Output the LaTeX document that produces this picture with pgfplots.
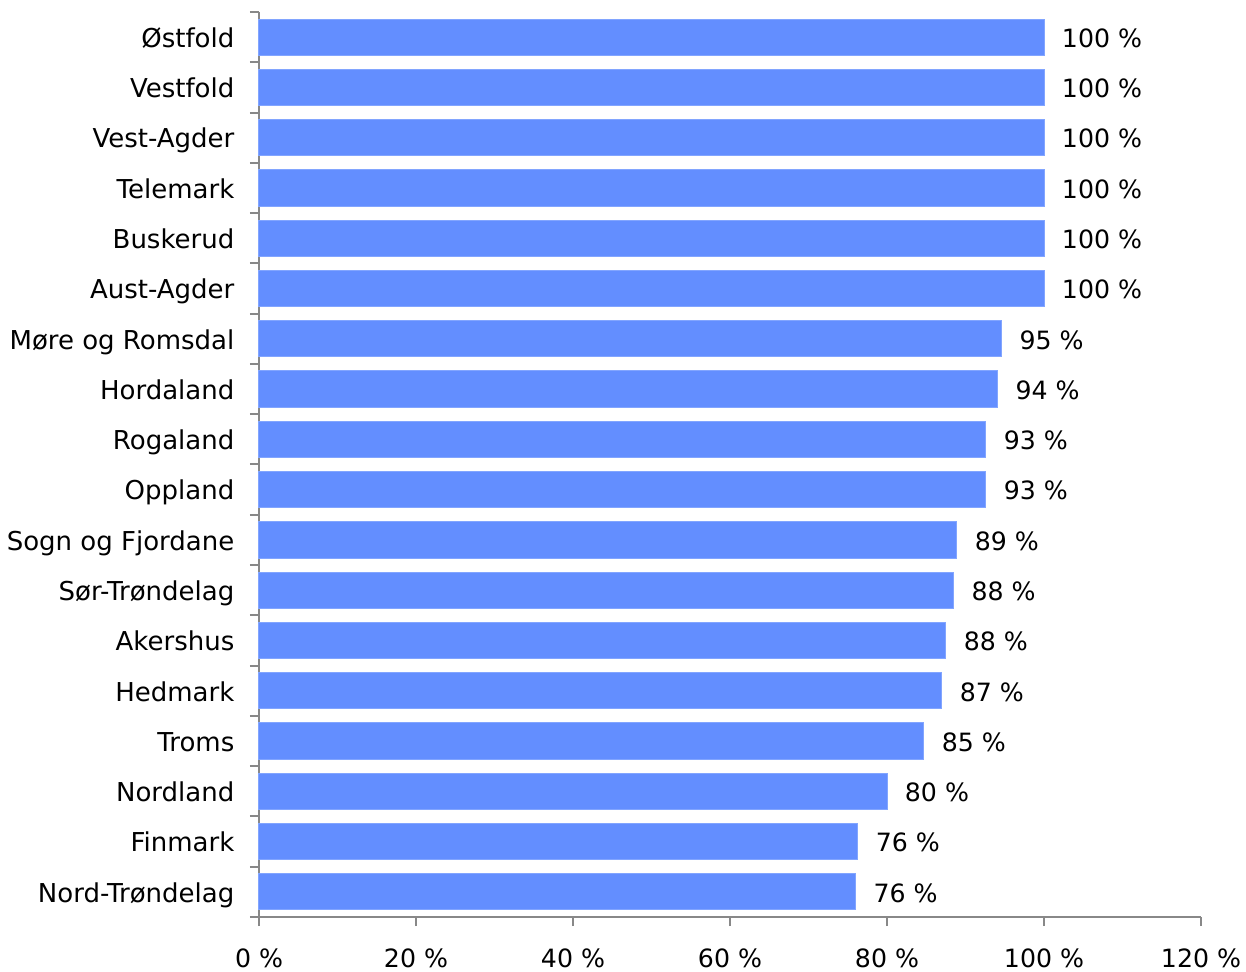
\documentclass[border=0pt]{standalone}
\usepackage{fontspec}
\setmainfont{DejaVu Sans}
\usepackage{pgfplots}
\usepackage{pgfplotstable}
\pgfplotsset{compat=1.18}
\definecolor{barblue}{RGB}{99,142,255}
\definecolor{axgray}{RGB}{136,136,136}
\pgfplotstableread[col sep=comma]{
y,x,lab
0,100,100 \%
1,100,100 \%
2,100,100 \%
3,100,100 \%
4,100,100 \%
5,100,100 \%
6,94.6,95 \%
7,94.1,94 \%
8,92.6,93 \%
9,92.6,93 \%
10,88.9,89 \%
11,88.5,88 \%
12,87.5,88 \%
13,87.0,87 \%
14,84.7,85 \%
15,80.0,80 \%
16,76.3,76 \%
17,76.0,76 \%
}\datatable
\begin{document}
\begin{tikzpicture}
\begin{axis}[
  at={(0,0)}, anchor=south west,
  scale only axis,
  width=471pt, height=452.5pt,
  xbar, bar width=0.72,
  xmin=0, xmax=120,
  ymin=-0.5, ymax=17.5,
  y dir=reverse,
  axis x line*=bottom, axis y line*=left,
  axis line style={axgray, line width=1pt},
  every tick/.style={axgray, line width=1pt},
  tick align=outside,
  xtick={0,20,...,120},
  xticklabel={\pgfmathprintnumber{\tick}~\%},
  /pgf/number format/assume math mode=true,
  major tick length=4.5pt,
  ytick={0,...,17},
  major y tick style={draw=none},
  yticklabels={Østfold,Vestfold,Vest-Agder,Telemark,Buskerud,Aust-Agder,Møre og Romsdal,Hordaland,Rogaland,Oppland,Sogn og Fjordane,Sør-Trøndelag,Akershus,Hedmark,Troms,Nordland,Finmark,Nord-Trøndelag},
  minor ytick={-0.5,0.5,...,17.5},
  minor tick length=4.5pt,
  ticklabel style={text=black},
  yticklabel style={font=\fontsize{13}{16}\selectfont, xshift=-4.3pt, yshift=-2pt, text height=1.6ex, text depth=0.45ex, inner ysep=0pt},
  xticklabel style={font=\fontsize{12.6}{16}\selectfont, yshift=-7.7pt},
  nodes near coords,
  point meta=explicit symbolic,
  every node near coord/.append style={font=\fontsize{12.6}{16}\selectfont, anchor=west, xshift=5.4pt, yshift=-2pt, text=black, text height=1.6ex, text depth=0.45ex, inner ysep=0pt},
  clip=false,
]
\addplot[fill=barblue, draw=barblue!80!white, line width=0.5pt] table[x=x, y=y, meta=lab]{\datatable};
\end{axis}
\pgfresetboundingbox
\useasboundingbox (-129.5pt,-27.5pt) rectangle (493.5pt,458.5pt);
\end{tikzpicture}
\end{document}
